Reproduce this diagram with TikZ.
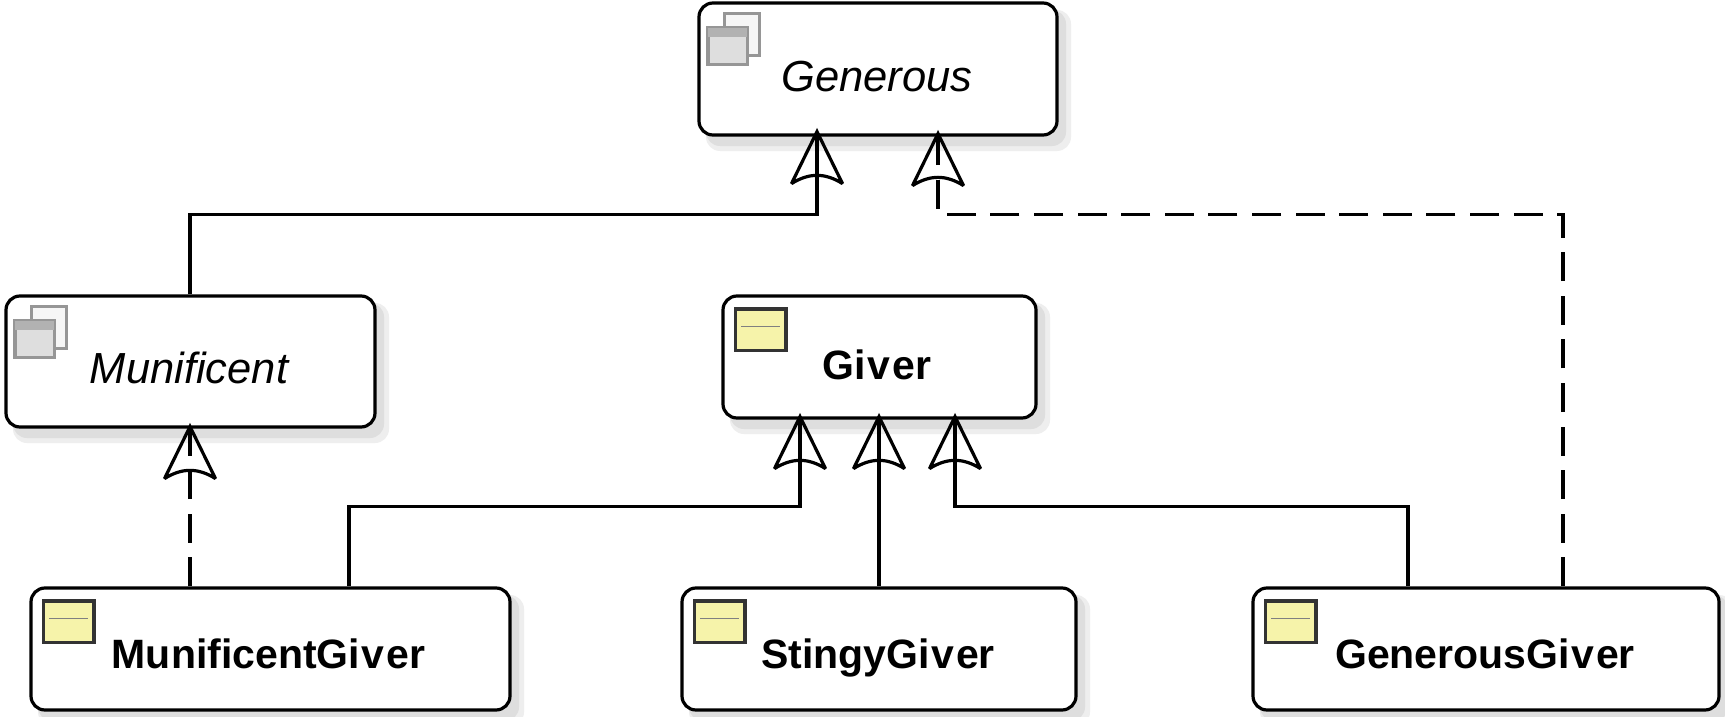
\documentclass[tikz,border=0pt]{standalone}
\usepackage{fontspec}
\setmainfont{Liberation Sans}
\usetikzlibrary{calc}
\definecolor{iconyellow}{RGB}{246,243,170}
\definecolor{ifgray}{RGB}{150,150,150}
\definecolor{ifband}{RGB}{178,178,178}
\definecolor{iffill}{RGB}{222,222,222}
\tikzset{
  classbox/.style={draw=black,line width=3.2pt,rounded corners=14pt,fill=white,inner sep=0pt,
    shape=rectangle},
  conn/.style={draw=black,line width=3.2pt},
  dashconn/.style={conn,dash pattern=on 29pt off 14.6pt},
  headstyle/.style={draw=black,line width=3.2pt,line join=miter,miter limit=3},
  abstractname/.style={font=\fontsize{43.5}{43.5}\selectfont\itshape,anchor=base,inner sep=0pt},
  classname/.style={font=\fontsize{41}{41}\selectfont\bfseries,anchor=base,inner sep=0pt},
}
\newcommand{\umlbox}[5]{% name, x0, y0, x1, y1
  \fill[gray!13,rounded corners=14pt] (#2+7,#3+7) rectangle (#4+14,#5+16);
  \fill[gray!26,rounded corners=14pt] (#2+7,#3+7) rectangle (#4+9,#5+11);
  \pgfmathsetmacro{\boxw}{#4-#2}\pgfmathsetmacro{\boxh}{#5-#3}
  \node[classbox,minimum width=\boxw pt,minimum height=\boxh pt] (#1) at ({(#2+#4)/2},{(#3+#5)/2}) {};
}
\newcommand{\classicon}[1]{%
  \fill[iconyellow,draw=black!80,line width=3.6pt] ([shift={(14,14.5)}]#1.north west) rectangle ([shift={(64.5,56)}]#1.north west);
  \draw[gray,line width=1.4pt] ([shift={(20,32)}]#1.north west) -- ([shift={(59,32)}]#1.north west);
}
\newcommand{\ifaceicon}[1]{%
  \fill[white!93!gray,draw=ifgray,line width=3pt] ([shift={(27.5,12.5)}]#1.north west) rectangle ([shift={(62.5,54.5)}]#1.north west);
  \fill[iffill,draw=ifgray,line width=3.4pt] ([shift={(10.5,26.5)}]#1.north west) rectangle ([shift={(50,63)}]#1.north west);
  \fill[ifband] ([shift={(10.5,26.5)}]#1.north west) rectangle ([shift={(50,36)}]#1.north west);
}
\newcommand{\openhead}[1]{%
  \draw[headstyle] ([shift={(-25.5,52)}]#1) -- (#1) -- ([shift={(25.5,52)}]#1)
    .. controls ([shift={(8,41)}]#1) and ([shift={(-8,41)}]#1) .. cycle;
}
\begin{document}
\begin{tikzpicture}[x=1pt,y=-1pt]
\useasboundingbox (0,0) rectangle (1725,717);
\fill[white] (0,0) rectangle (1725,717);

\umlbox{generous}{699}{3}{1057}{135}
\umlbox{munificent}{6}{296}{375}{427}
\umlbox{giver}{723}{296}{1036}{418}
\umlbox{mgiver}{31}{588}{510}{710}
\umlbox{sgiver}{682}{588}{1076}{710}
\umlbox{ggiver}{1253}{588}{1719}{710}

\ifaceicon{generous}
\ifaceicon{munificent}
\classicon{giver}
\classicon{mgiver}
\classicon{sgiver}
\classicon{ggiver}

\node[abstractname] (generoustxt) at (877,92) {Generous};
\node[abstractname] (munificenttxt) at (189,383) {Munificent};
\node[classname] (givertxt) at (877,379) {Gi\kern1.5pt v\kern2pt er};
\node[classname] (mgivertxt) at (268.5,668) {MunificentGi\kern1.5pt v\kern2pt er};
\node[classname] (sgivertxt) at (878,668) {StingyGi\kern1.5pt v\kern2pt er};
\node[classname] (ggivertxt) at (1485,668) {GenerousGi\kern1.5pt v\kern2pt er};

% arrow tips
\coordinate (tipA) at ([xshift=-61,yshift=5]generous.south);
\coordinate (tipB) at ([xshift=60,yshift=3]generous.south);
\coordinate (tipC) at ([xshift=-0.5,yshift=2]munificent.south);
\coordinate (tipD) at ([xshift=-79.5,yshift=3]giver.south);
\coordinate (tipE) at ([xshift=-0.5,yshift=3]giver.south);
\coordinate (tipF) at ([xshift=75.5,yshift=3]giver.south);

% connectors
\draw[conn] (tipC |- munificent.north) -- ++(0,-80) -| (tipA);
\draw[dashconn] ([xshift=77]ggiver.north) -- ++(0,-372) -| (tipB);
\draw[dashconn] (tipC |- mgiver.north) -- (tipC);
\draw[conn] ([xshift=78.5]mgiver.north) -- ++(0,-80) -| (tipD);
\draw[conn] (tipE |- sgiver.north) -- (tipE);
\draw[conn] ([xshift=-78]ggiver.north) -- ++(0,-80) -| (tipF);

\openhead{tipA}
\openhead{tipB}
\openhead{tipC}
\openhead{tipD}
\openhead{tipE}
\openhead{tipF}
\end{tikzpicture}
\end{document}
